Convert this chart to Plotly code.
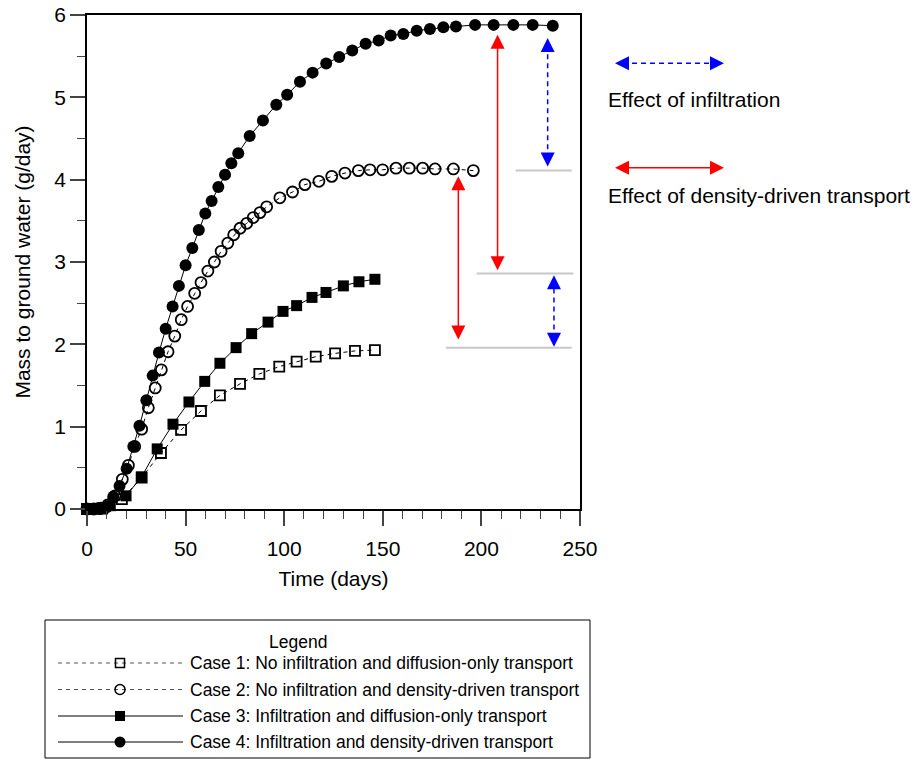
import plotly.graph_objects as go

W, H = 914, 759

# ---------------- data ----------------
case1_days = [0, 7.7, 17.7, 27.7, 37.5, 47.7, 57.8, 67.4, 77.6, 87.4, 97.5, 106.3, 116.0, 125.8, 135.9, 146.0]
case1_mass = [0, 0.01, 0.12, 0.38, 0.68, 0.96, 1.19, 1.38, 1.52, 1.64, 1.73, 1.79, 1.85, 1.89, 1.92, 1.93]

case2_days = [0, 3.5, 7.0, 10.6, 14.2, 17.9, 21.0, 24.2, 27.7, 31.1, 34.6, 37.7, 41.1, 44.5, 47.8, 51.0,
              54.6, 57.8, 61.3, 64.6, 68.0, 71.4, 74.4, 77.6, 81.0, 84.3, 87.7, 91.1, 97.8, 104.2, 110.5,
              117.6, 124.1, 130.8, 137.6, 143.5, 149.9, 156.7, 163.4, 170.2, 176.5, 185.8, 195.9]
case2_mass = [0, 0, 0.01, 0.05, 0.16, 0.36, 0.53, 0.76, 0.97, 1.23, 1.47, 1.69, 1.91, 2.10, 2.30, 2.46,
              2.62, 2.75, 2.89, 3.00, 3.13, 3.23, 3.33, 3.41, 3.47, 3.54, 3.60, 3.67, 3.78, 3.85, 3.94,
              3.98, 4.04, 4.08, 4.11, 4.12, 4.12, 4.14, 4.14, 4.14, 4.13, 4.13, 4.11]

case3_days = [0, 3.9, 7.9, 11.8, 19.8, 27.7, 35.6, 43.6, 51.7, 59.7, 67.4, 75.6, 83.5, 91.8, 99.4,
              106.3, 114.1, 121.2, 130.0, 137.9, 146.0]
case3_mass = [0, 0, 0, 0.04, 0.16, 0.39, 0.73, 1.03, 1.30, 1.55, 1.77, 1.96, 2.13, 2.27, 2.40,
              2.47, 2.57, 2.63, 2.71, 2.76, 2.79]

case4_days = [0, 3.3, 6.7, 10.0, 13.3, 16.5, 20.1, 23.5, 26.6, 30.1, 33.3, 36.5, 39.9, 43.4, 46.6,
              50.0, 53.4, 56.7, 60.0, 63.2, 66.6, 70.0, 73.2, 76.7, 82.5, 89.2, 96.0, 101.5, 108.0,
              114.4, 121.3, 127.9, 134.5, 141.3, 147.9, 154.0, 160.4, 167.2, 173.9, 180.7, 187.1,
              196.8, 206.2, 216.2, 226.0, 236.2]
case4_mass = [0, 0, 0, 0.02, 0.15, 0.28, 0.49, 0.76, 1.01, 1.32, 1.62, 1.90, 2.19, 2.46, 2.71,
              2.96, 3.17, 3.39, 3.59, 3.74, 3.91, 4.06, 4.20, 4.32, 4.53, 4.72, 4.91, 5.03, 5.19,
              5.30, 5.41, 5.49, 5.57, 5.65, 5.69, 5.75, 5.77, 5.81, 5.83, 5.85, 5.86,
              5.88, 5.88, 5.88, 5.88, 5.87]

case_labels = [
    "Case 1: No infiltration and diffusion-only transport",
    "Case 2: No infiltration and density-driven transport",
    "Case 3: Infiltration and diffusion-only transport",
    "Case 4: Infiltration and density-driven transport",
]

# reference levels (grey lines) and difference arrows
ref_levels = [4.11, 2.86, 1.96]
ref_level_from = [217.4, 197.6, 182.0]
ref_level_to = [245.8, 246.6, 245.8]

arrow_x = [188.3, 208.2, 233.6, 236.8]
arrow_top = [4.04, 5.76, 5.72, 2.84]
arrow_bottom = [2.06, 2.90, 4.16, 1.97]
arrow_kind = ["density", "density", "infiltration", "infiltration"]

FONT = "Liberation Sans, Arial, Helvetica, sans-serif"
RED = "#ff0000"
BLUE = "#0000ff"

fig = go.Figure()

styles = [
    dict(symbol="square-open", size=10, dash="4px,4px", color="black", mline=1.8),
    dict(symbol="circle-open", size=11, dash="4px,4px", color="black", mline=1.8),
    dict(symbol="square", size=11, dash="solid", color="black", mline=0),
    dict(symbol="circle", size=12, dash="solid", color="black", mline=0),
]
series = [(case1_days, case1_mass), (case2_days, case2_mass),
          (case3_days, case3_mass), (case4_days, case4_mass)]

for (xs, ys), st, name in zip(series, styles, case_labels):
    fig.add_trace(go.Scatter(
        x=xs, y=ys, mode="lines+markers", name=name, showlegend=False,
        cliponaxis=False,
        line=dict(color="black", width=1, dash=st["dash"]),
        marker=dict(symbol=st["symbol"], size=st["size"], color="black",
                    line=dict(color="black", width=st["mline"])),
    ))

# grey reference lines
for lv, a, b in zip(ref_levels, ref_level_from, ref_level_to):
    fig.add_shape(type="line", xref="x", yref="y", x0=a, x1=b, y0=lv, y1=lv,
                  line=dict(color="#c8c8c8", width=2))

# arrows (shafts + heads)
for xa, top, bot, kind in zip(arrow_x, arrow_top, arrow_bottom, arrow_kind):
    col = RED if kind == "density" else BLUE
    dash = "solid" if kind == "density" else "5px,4px"
    fig.add_trace(go.Scatter(x=[xa, xa], y=[bot + 0.1, top - 0.1], mode="lines",
                             line=dict(color=col, width=1.5, dash=dash),
                             showlegend=False, hoverinfo="skip", cliponaxis=False))
    fig.add_trace(go.Scatter(x=[xa, xa], y=[top, bot], mode="markers",
                             marker=dict(symbol=["arrow-up", "arrow-down"], size=14,
                                         color=col, line=dict(width=0)),
                             showlegend=False, hoverinfo="skip", cliponaxis=False))

# ------------- overlay pixel axis for key & legend box -------------
key_y = [63.3, 167.7]
key_x = [615, 724]
key_text_y = [99, 195]
key_text = ["Effect of infiltration", "Effect of density-driven transport"]
key_col = [BLUE, RED]
key_dash = ["5px,4px", "solid"]

for ky, col, dsh, ty, tx in zip(key_y, key_col, key_dash, key_text_y, key_text):
    fig.add_trace(go.Scatter(x=[key_x[0] + 8, key_x[1] - 8], y=[ky, ky], mode="lines",
                             xaxis="x2", yaxis="y2",
                             line=dict(color=col, width=1.5, dash=dsh),
                             showlegend=False, hoverinfo="skip"))
    fig.add_trace(go.Scatter(x=key_x, y=[ky, ky], mode="markers", xaxis="x2", yaxis="y2",
                             marker=dict(symbol=["arrow-left", "arrow-right"], size=14,
                                         color=col, line=dict(width=0)),
                             showlegend=False, hoverinfo="skip"))
    fig.add_annotation(x=606, y=ty, xref="x2", yref="y2", text=tx, showarrow=False,
                       xanchor="left", yanchor="middle",
                       font=dict(family=FONT, size=21, color="black"))

# legend box
legend_rows_y = [663, 689.5, 716, 742]
fig.add_shape(type="rect", xref="x2", yref="y2", x0=45, x1=590, y0=620, y1=758,
              line=dict(color="black", width=1), fillcolor="rgba(0,0,0,0)")
fig.add_annotation(x=298, y=642, xref="x2", yref="y2", text="Legend", showarrow=False,
                   xanchor="center", yanchor="middle",
                   font=dict(family=FONT, size=17.5, color="black"))
for ry, st, name in zip(legend_rows_y, styles, case_labels):
    lcol = "#555555" if st["dash"] != "solid" else "black"
    fig.add_trace(go.Scatter(x=[58, 183], y=[ry, ry], mode="lines", xaxis="x2", yaxis="y2",
                             line=dict(color=lcol, width=1, dash=st["dash"]),
                             showlegend=False, hoverinfo="skip"))
    fig.add_trace(go.Scatter(x=[120], y=[ry], mode="markers", xaxis="x2", yaxis="y2",
                             marker=dict(symbol=st["symbol"], size=st["size"] - 1,
                                         color="black",
                                         line=dict(color="black", width=max(st["mline"] - 0.3, 0))),
                             showlegend=False, hoverinfo="skip"))
    fig.add_annotation(x=188, y=ry, xref="x2", yref="y2", text=name, showarrow=False,
                       xanchor="left", yanchor="middle",
                       font=dict(family=FONT, size=17.5, color="black"))

axis_common = dict(showline=True, linecolor="black", linewidth=1.5, mirror=True,
                   ticks="outside", ticklen=15, tickwidth=1.5, tickcolor="#444444",
                   showgrid=False, zeroline=False,
                   tickfont=dict(family=FONT, size=21, color="black"))

fig.update_layout(
    width=W, height=H,
    margin=dict(l=0, r=0, t=0, b=0),
    paper_bgcolor="white", plot_bgcolor="rgba(0,0,0,0)",
    showlegend=False,
    xaxis=dict(domain=[87 / W, 580 / W], range=[0, 250], anchor="y",
               tick0=0, dtick=50, automargin=False, ticklabelstandoff=5,
               minor=dict(dtick=10, ticks="outside", ticklen=8, tickwidth=1.2, tickcolor="#444444"),
               title=dict(text="Time (days)", font=dict(family=FONT, size=21, color="black"), standoff=12),
               **axis_common),
    yaxis=dict(domain=[(H - 509) / H, (H - 15) / H], range=[0, 6], anchor="x",
               tick0=0, dtick=1, automargin=False,
               minor=dict(dtick=0.5, ticks="outside", ticklen=8, tickwidth=1.2, tickcolor="#444444"),
               title=dict(text="Mass to ground water (g/day)", font=dict(family=FONT, size=21, color="black"), standoff=18),
               **axis_common),
    xaxis2=dict(domain=[0, 1], range=[0, W], anchor="y2", visible=False, fixedrange=True),
    yaxis2=dict(domain=[0, 1], range=[H, 0], anchor="x2", visible=False, fixedrange=True),
)

fig.write_html("out.html")
